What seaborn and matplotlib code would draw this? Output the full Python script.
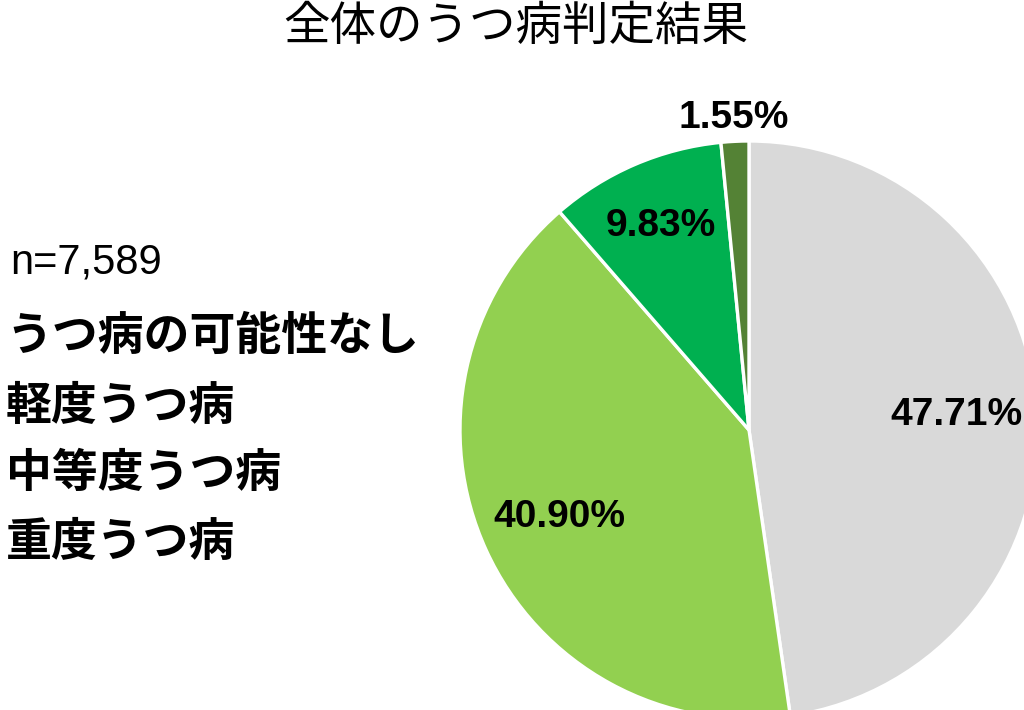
#
# pie chart: overall depression screening result
#
import matplotlib
matplotlib.use('Agg')
import matplotlib.pyplot as plt
import seaborn as sns
import numpy as np
#
# data
categories = ['うつ病の可能性なし', '軽度うつ病', '中等度うつ病', '重度うつ病']
shares = [47.71, 40.90, 9.83, 1.55]
pct_labels = ['47.71%', '40.90%', '9.83%', '1.55%']
colors = ['#D9D9D9', '#92D050', '#00B050', '#548235']
title = '全体のうつ病判定結果'
n_label = 'n=7,589'
#
sns.set_theme(style='white')
plt.rcParams['font.family'] = ['Noto Sans CJK JP', 'DejaVu Sans']
#
#---
# drawing
#---
fig = plt.figure(figsize=(10.24, 7.10), dpi=100)
ax = fig.add_axes([0, 0, 1, 1])
#
wedges, _ = ax.pie(shares, colors=sns.color_palette(colors), startangle=90,
                   counterclock=False, center=(749, 280), radius=289,
                   wedgeprops=dict(edgecolor='white', linewidth=2.4))
ax.set_xlim(0, 1024)
ax.set_ylim(0, 710)
ax.set_aspect('equal')
ax.axis('off')
#
# percentage labels placed along each wedge's mid angle
label_dist = [0.72, 0.72, 0.77, 1.08]
for w, lab, d in zip(wedges, pct_labels, label_dist):
    ang = np.deg2rad((w.theta1 + w.theta2) / 2)
    x = w.center[0] + d * w.r * np.cos(ang)
    y = w.center[1] + d * w.r * np.sin(ang)
    ax.text(x, y, lab, ha='center', va='center', fontsize=28,
            fontweight='bold', family=['Liberation Sans', 'DejaVu Sans'],
            color='black')
#
# title
fig.text(516 / 1024, 1 - 27 / 710, title, ha='center', va='center',
         fontsize=33.5, color='black')
#
# left side text
fig.text(10 / 1024, 1 - 263 / 710, n_label, ha='left', va='center',
         fontsize=30, family=['Liberation Sans', 'DejaVu Sans'],
         color='black')
ys = [337, 407, 474, 543]
for cat, yy in zip(categories, ys):
    fig.text(6 / 1024, 1 - yy / 710, cat, ha='left', va='center',
             fontsize=33, fontweight='bold', color='black')
#
fig.savefig('out.png', dpi=100)
plt.close(fig)
